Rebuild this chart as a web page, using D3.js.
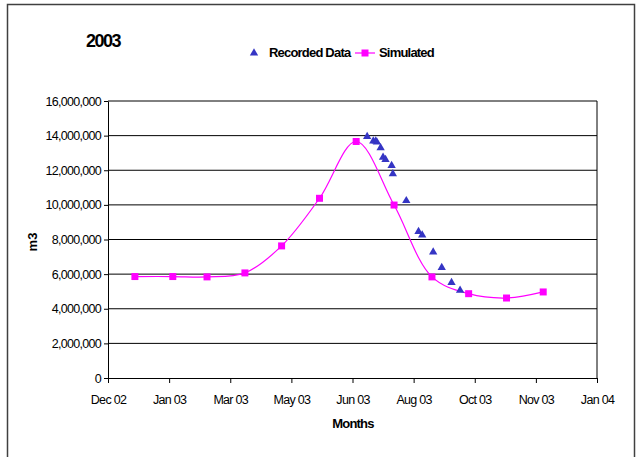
<!DOCTYPE html>
<html>
<head>
<meta charset="utf-8">
<script src="https://cdn.jsdelivr.net/npm/d3@7"></script>
<style>
  body { margin: 0; background: #fff; }
  text { font-family: Arial, "Liberation Sans", sans-serif; fill: #000; }
</style>
</head>
<body>
<svg id="chart" width="642" height="457"></svg>
<script>
// chart data
const simDates = ["2003-01-01", "2003-02-01", "2003-03-01", "2003-04-01", "2003-05-01", "2003-06-01",
                  "2003-07-01", "2003-08-01", "2003-09-01", "2003-10-01", "2003-11-01", "2003-12-01"];
const simValues = [5860000, 5860000, 5840000, 6070000, 7630000, 10380000,
                   13660000, 9990000, 5840000, 4870000, 4620000, 4970000];

const recDates = ["2003-07-10", "2003-07-15", "2003-07-17", "2003-07-18", "2003-07-21", "2003-07-23",
                  "2003-07-25", "2003-07-30", "2003-07-31", "2003-08-11", "2003-08-21", "2003-08-24",
                  "2003-09-02", "2003-09-09", "2003-09-17", "2003-09-24"];
const recValues = [13940000, 13680000, 13680000, 13620000, 13300000, 12750000,
                   12620000, 12270000, 11790000, 10240000, 8460000, 8260000,
                   7270000, 6380000, 5510000, 5070000];

const xTickLabels = ["Dec 02", "Jan 03", "Mar 03", "May 03", "Jun 03", "Aug 03", "Oct 03", "Nov 03", "Jan 04"];
const yTicks = [0, 2000000, 4000000, 6000000, 8000000, 10000000, 12000000, 14000000, 16000000];

const parse = d3.utcParse("%Y-%m-%d");
const xStart = parse("2002-12-10");   // axis runs in 50 day steps
const xTicks = xTickLabels.map((d, i) => d3.utcDay.offset(xStart, 50 * i));

const simData = simDates.map((d, i) => ({ date: parse(d), value: simValues[i] }));
const recData = recDates.map((d, i) => ({ date: parse(d), value: recValues[i] }));

const svg = d3.select("#chart");
const plotL = 108, plotR = 597, plotT = 101, plotB = 378;

const x = d3.scaleUtc().domain([xStart, xTicks[xTicks.length - 1]]).range([plotL, plotR]);
const y = d3.scaleLinear().domain([0, 16000000]).range([plotB, plotT]);

// outer frame
svg.append("rect")
    .attr("x", 7.5).attr("y", 4.5).attr("width", 627).attr("height", 470)
    .attr("fill", "#fff").attr("stroke", "#404040").attr("stroke-width", 1.5);

// gridlines
svg.append("g")
  .selectAll("line")
  .data(yTicks.slice(1))
  .join("line")
    .attr("x1", plotL).attr("x2", plotR)
    .attr("y1", d => y(d)).attr("y2", d => y(d))
    .attr("stroke", "#000").attr("stroke-width", 1);

// right edge of plot area
svg.append("line")
    .attr("x1", plotR).attr("x2", plotR).attr("y1", plotT).attr("y2", plotB)
    .attr("stroke", "#000");

// axes
const xAxis = svg.append("g")
    .attr("transform", `translate(0,${plotB})`)
    .call(d3.axisBottom(x).tickValues(xTicks).tickFormat((d, i) => xTickLabels[i]).tickSize(5).tickSizeOuter(0));
xAxis.selectAll("text").attr("dy", "1.45em");

const yAxis = svg.append("g")
    .attr("transform", `translate(${plotL},0)`)
    .call(d3.axisLeft(y).tickValues(yTicks).tickFormat(d3.format(",")).tickSize(4).tickSizeOuter(0));
yAxis.selectAll("text").attr("x", -7);

svg.selectAll(".tick line, .domain").attr("stroke", "#000");
svg.selectAll(".tick text")
    .style("font-size", "12.5px").style("letter-spacing", "-0.7px").attr("fill", "#000");

// simulated curve
svg.append("path")
    .datum(simData)
    .attr("fill", "none")
    .attr("stroke", "#ff00ff")
    .attr("stroke-width", 1.2)
    .attr("d", d3.line().x(d => x(d.date)).y(d => y(d.value)).curve(d3.curveCatmullRom.alpha(0.5)));

const square = d3.symbol().type(d3.symbolSquare).size(49);
const triangle = d3.symbol().type(d3.symbolTriangle).size(30);

svg.append("g")
  .selectAll("path")
  .data(simData)
  .join("path")
    .attr("transform", d => `translate(${x(d.date)},${y(d.value)})`)
    .attr("d", square)
    .attr("fill", "#ff00ff");

svg.append("g")
  .selectAll("path")
  .data(recData)
  .join("path")
    .attr("transform", d => `translate(${x(d.date)},${y(d.value)})`)
    .attr("d", triangle)
    .attr("fill", "#3535c4");

// titles
svg.append("text")
    .attr("x", 86).attr("y", 47)
    .style("font-size", "18px").style("font-weight", "bold").style("letter-spacing", "-1.5px")
    .text("2003");

svg.append("text")
    .attr("x", 353).attr("y", 428)
    .attr("text-anchor", "middle")
    .style("font-size", "13px").style("font-weight", "bold").style("letter-spacing", "-0.8px")
    .text("Months");

svg.append("text")
    .attr("transform", "translate(37,242) rotate(-90)")
    .attr("text-anchor", "middle")
    .style("font-size", "13px").style("font-weight", "bold")
    .text("m3");

// legend
const legend = svg.append("g");
legend.append("path")
    .attr("transform", "translate(254,53)")
    .attr("d", triangle)
    .attr("fill", "#3535c4");
legend.append("text")
    .attr("x", 269).attr("y", 57)
    .style("font-size", "13px").style("font-weight", "bold").style("letter-spacing", "-0.8px")
    .text("Recorded Data");
legend.append("line")
    .attr("x1", 355).attr("x2", 375).attr("y1", 53).attr("y2", 53)
    .attr("stroke", "#ff00ff").attr("stroke-width", 1.2);
legend.append("path")
    .attr("transform", "translate(365,53)")
    .attr("d", square)
    .attr("fill", "#ff00ff");
legend.append("text")
    .attr("x", 379).attr("y", 57)
    .style("font-size", "13px").style("font-weight", "bold").style("letter-spacing", "-0.8px")
    .text("Simulated");
</script>
</body>
</html>
